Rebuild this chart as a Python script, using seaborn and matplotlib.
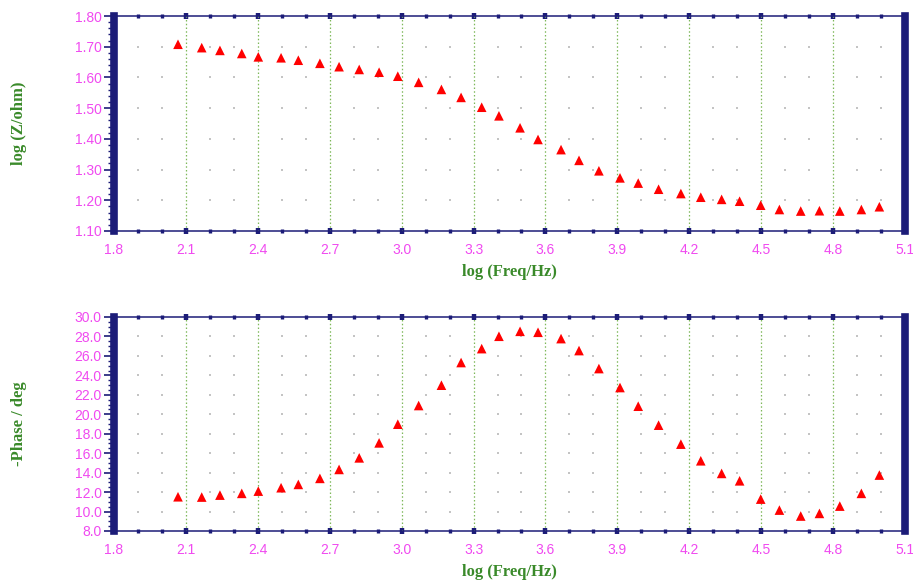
import numpy as np
import pandas as pd
import matplotlib
matplotlib.use("Agg")
import matplotlib.pyplot as plt
from matplotlib.ticker import MultipleLocator, FormatStrFormatter
import seaborn as sns

# Impedance spectrum (Bode representation)
log_freq = [2.067, 2.166, 2.242, 2.333, 2.402, 2.497, 2.569, 2.659, 2.739, 2.823,
            2.906, 2.984, 3.071, 3.166, 3.248, 3.334, 3.406, 3.494, 3.569, 3.665,
            3.740, 3.823, 3.911, 3.987, 4.072, 4.165, 4.248, 4.335, 4.410, 4.498,
            4.576, 4.665, 4.743, 4.828, 4.918, 4.993]
log_z = [1.708, 1.697, 1.688, 1.678, 1.667, 1.664, 1.656, 1.646, 1.635, 1.626,
         1.617, 1.604, 1.584, 1.561, 1.535, 1.503, 1.475, 1.436, 1.398, 1.365,
         1.330, 1.296, 1.273, 1.256, 1.236, 1.222, 1.210, 1.203, 1.197, 1.184,
         1.170, 1.165, 1.166, 1.165, 1.170, 1.179]
neg_phase = [11.52, 11.49, 11.69, 11.87, 12.10, 12.45, 12.79, 13.41, 14.33, 15.52,
             17.06, 18.98, 20.90, 22.99, 25.32, 26.75, 28.02, 28.53, 28.43, 27.78,
             26.55, 24.70, 22.75, 20.83, 18.88, 16.93, 15.22, 13.92, 13.16, 11.28,
             10.15, 9.54, 9.81, 10.56, 11.87, 13.75]

x_ticks = [1.8, 2.1, 2.4, 2.7, 3.0, 3.3, 3.6, 3.9, 4.2, 4.5, 4.8, 5.1]
x_label = "log (Freq/Hz)"
y_labels = ["log (Z/ohm)", "-Phase / deg"]

df = pd.DataFrame({"logf": log_freq, "logz": log_z, "phase": neg_phase})

sns.set_theme(style="white")
plt.rcParams["font.family"] = ["Liberation Sans Narrow", "Liberation Sans", "DejaVu Sans"]

NAVY = "#1c1c78"
MAGENTA = "#f04af0"
GREEN = "#3a8a2a"
GRID_GREEN = "#7fb85a"
DOT_GREY = "#c4c4c4"

fig = plt.figure(figsize=(9.13, 5.86), dpi=100)
ax_top = fig.add_axes([114 / 913, 1 - 231 / 586, (905 - 114) / 913, (231 - 16) / 586])
ax_bot = fig.add_axes([114 / 913, 1 - 531 / 586, (905 - 114) / 913, (531 - 317) / 586])

panels = [
    (ax_top, "logz", (1.10, 1.80), 0.10, 0.02, "%.2f"),
    (ax_bot, "phase", (8.0, 30.0), 2.0, 0.5, "%.1f"),
]

label_font = dict(color=GREEN, fontsize=12, fontweight="bold", family="Liberation Serif")

for ax, col, ylim, ymaj, ymin, fmt in panels:
    ax.set_xlim(1.8, 5.1)
    ax.set_ylim(*ylim)

    # dotted background: grey dots on minor x positions, green dotted lines on majors
    xs = [v for v in np.arange(1.9, 5.05, 0.1) if abs((v - 1.8) / 0.3 - round((v - 1.8) / 0.3)) > 1e-6]
    ys = np.arange(ylim[0] + ymaj, ylim[1] - 1e-9, ymaj)
    gx, gy = np.meshgrid(xs, ys)
    ax.scatter(gx.ravel(), gy.ravel(), s=3, marker="s", color=DOT_GREY, linewidths=0, zorder=1)
    for xv in x_ticks[1:-1]:
        ax.axvline(xv, color=GRID_GREEN, lw=0.9, ls=(0, (1.2, 1.8)), zorder=1)

    sns.scatterplot(data=df, x="logf", y=col, ax=ax, marker="^", s=48,
                    color="#ff0000", edgecolor="none", zorder=3, legend=False)

    ax.xaxis.set_major_locator(MultipleLocator(0.3))
    ax.xaxis.set_minor_locator(MultipleLocator(0.1))
    ax.xaxis.set_major_formatter(FormatStrFormatter("%.1f"))
    ax.yaxis.set_major_locator(MultipleLocator(ymaj))
    ax.yaxis.set_minor_locator(MultipleLocator(ymin))
    ax.yaxis.set_major_formatter(FormatStrFormatter(fmt))

    ax.tick_params(axis="x", which="major", direction="inout", top=True, bottom=True,
                   length=5, width=3.2, color=NAVY, labelcolor=MAGENTA, labelsize=10, pad=6)
    ax.tick_params(axis="x", which="minor", direction="inout", top=True, bottom=True,
                   length=3.5, width=2.4, color=NAVY)
    ax.tick_params(axis="y", which="major", direction="out", left=True, right=False,
                   length=7, width=1.2, color=NAVY, labelcolor=MAGENTA, labelsize=10, pad=2)
    ax.tick_params(axis="y", which="minor", direction="out", left=True, right=False,
                   length=4.5, width=1.0, color=NAVY)

    for side in ("top", "bottom"):
        ax.spines[side].set_color(NAVY)
        ax.spines[side].set_linewidth(1.1)
        ax.spines[side].set_visible(True)
    for side in ("left", "right"):
        ax.spines[side].set_color(NAVY)
        ax.spines[side].set_linewidth(5.5)
        ax.spines[side].set_visible(True)

    ax.grid(False)
    ax.set_xlabel(x_label, labelpad=5, **label_font)

ax_top.set_ylabel(y_labels[0], **label_font)
ax_bot.set_ylabel(y_labels[1], **label_font)
for ax in (ax_top, ax_bot):
    ax.yaxis.set_label_coords(-0.110, 0.5)

fig.savefig("out.png", dpi=100, facecolor="white")
